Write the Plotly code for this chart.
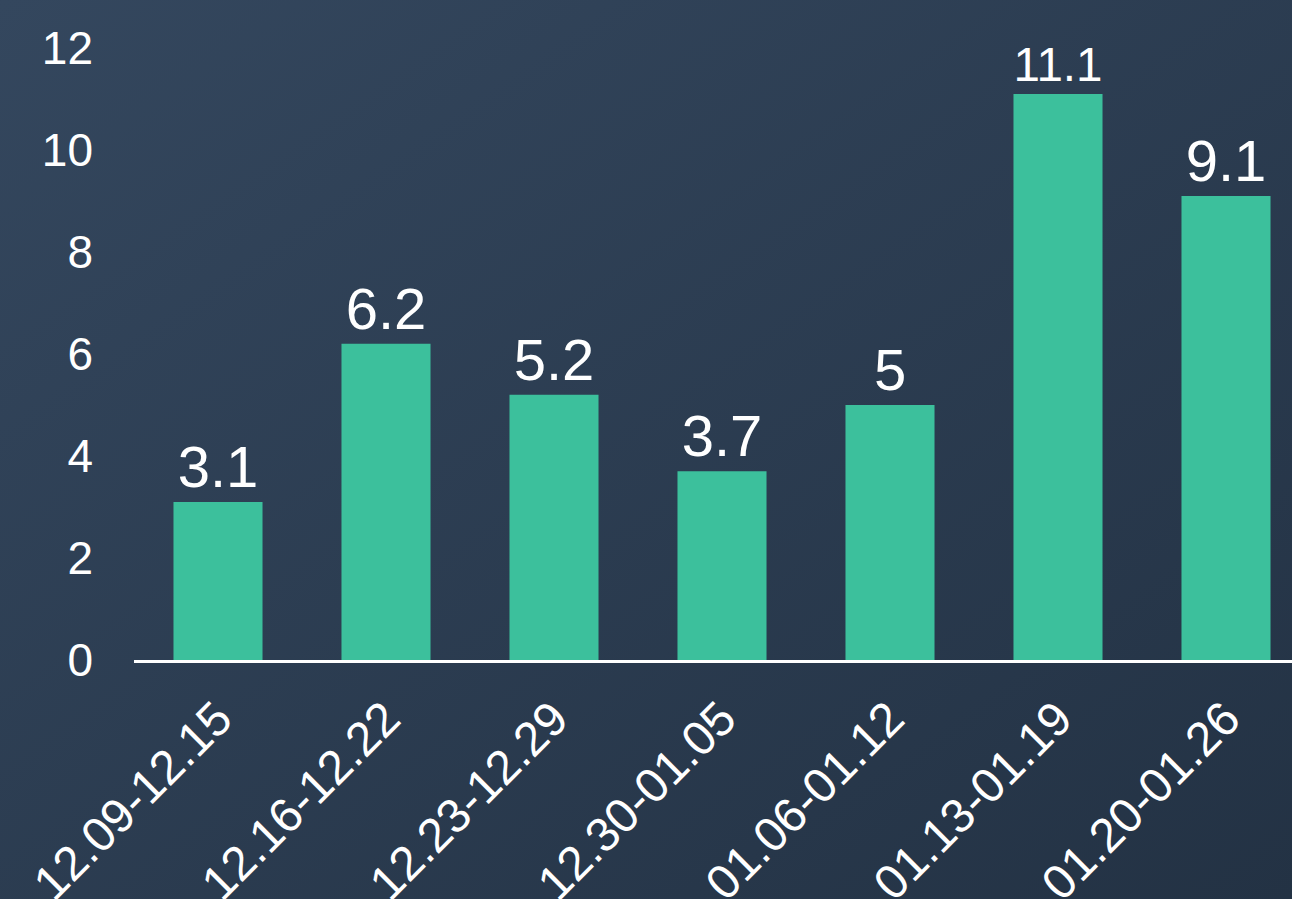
import base64
import plotly.graph_objects as go

weeks = ['12.09-12.15', '12.16-12.22', '12.23-12.29', '12.30-01.05',
         '01.06-01.12', '01.13-01.19', '01.20-01.26']
values = [3.1, 6.2, 5.2, 3.7, 5, 11.1, 9.1]
y_ticks = [0, 2, 4, 6, 8, 10, 12]

W, H = 1292, 899
ML, MR, MT, MB = 134, 0, 48, 239
pw, ph = W - ML - MR, H - MT - MB

# Diagonal background gradient, drawn as an svg image behind everything.
svg = (
    "<svg xmlns='http://www.w3.org/2000/svg' width='100' height='100' "
    "preserveAspectRatio='none' viewBox='0 0 100 100'>"
    "<defs><linearGradient id='g' x1='0' y1='0' x2='1' y2='1'>"
    "<stop offset='0' stop-color='#34475e'/>"
    "<stop offset='1' stop-color='#233244'/>"
    "</linearGradient></defs>"
    "<rect width='100' height='100' fill='url(#g)'/></svg>"
)
bg_src = "data:image/svg+xml;base64," + base64.b64encode(svg.encode()).decode()

fig = go.Figure(go.Bar(
    x=weeks, y=values,
    marker_color='#3cc09c', marker_line_width=0,
    text=[f"{v:g}" for v in values], textposition='outside',
    textfont=dict(size=58, color='white'),
    cliponaxis=False,
))

fig.update_layout(
    width=W, height=H,
    margin=dict(l=ML, r=MR, t=MT, b=MB, pad=0, autoexpand=False),
    paper_bgcolor='#2c3c51', plot_bgcolor='rgba(0,0,0,0)',
    font=dict(family='Arial, Liberation Sans, sans-serif', color='white'),
    bargap=0.47, showlegend=False,
    images=[dict(
        source=bg_src, xref='paper', yref='paper',
        x=-ML / pw, y=1 + MT / ph, sizex=W / pw, sizey=H / ph,
        xanchor='left', yanchor='top', sizing='stretch', layer='below',
    )],
)

fig.update_xaxes(
    range=[-0.5, -0.5 + pw / 168], showgrid=False, zeroline=False,
    showline=True, linecolor='white', linewidth=3,
    tickangle=-45, tickfont=dict(size=48, color='white'),
    ticks='', ticklabelstandoff=8, automargin=False,
)
fig.update_yaxes(
    range=[0, 12], tickvals=y_ticks, showgrid=False, zeroline=False,
    showline=False, tickfont=dict(size=46, color='white'),
    ticks='', ticklabelstandoff=40, automargin=False,
)

fig.write_html(
    "out.html",
    config={'displayModeBar': False},
    post_script="document.body.style.margin='0';"
                "document.body.style.overflow='hidden';",
)
